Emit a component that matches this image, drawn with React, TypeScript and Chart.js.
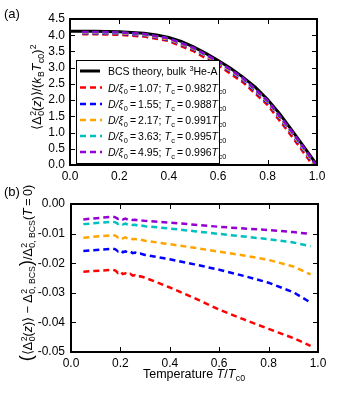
import React, { useEffect, useRef } from "react";
import { Chart, registerables } from "chart.js";

Chart.register(...registerables);

const FAM = '"Liberation Sans", Arial, Helvetica, sans-serif';

// ---------- Panel (a) data ----------
const BCS_T = [0, 0.1, 0.2, 0.3, 0.35, 0.4, 0.45, 0.5, 0.55, 0.6, 0.65, 0.7, 0.75, 0.8, 0.85, 0.9, 0.95, 1.0];
const BCS_GAP = [4.12, 4.12, 4.11, 4.06, 4.01, 3.93, 3.81, 3.64, 3.44, 3.22, 2.98, 2.71, 2.4, 2.02, 1.57, 1.05, 0.53, 0.0];

const TOP_T = [0.05, 0.1, 0.2, 0.3, 0.4, 0.5, 0.6, 0.7, 0.8, 0.9, 0.95];
const TC = [0.982, 0.988, 0.991, 0.995, 0.996];
const TOP_RED = [4.03, 4.03, 4.01, 3.96, 3.82, 3.51, 3.07, 2.55, 1.85, 0.86, 0.34, 0];
const TOP_BLUE = [4.05, 4.05, 4.04, 3.99, 3.85, 3.56, 3.13, 2.61, 1.91, 0.93, 0.4, 0];
const TOP_ORANGE = [4.07, 4.07, 4.06, 4.01, 3.87, 3.58, 3.15, 2.64, 1.94, 0.96, 0.43, 0];
const TOP_CYAN = [4.09, 4.09, 4.08, 4.03, 3.9, 3.6, 3.18, 2.67, 1.97, 1.0, 0.47, 0];
const TOP_PURPLE = [4.1, 4.1, 4.09, 4.04, 3.9, 3.61, 3.19, 2.68, 1.98, 1.01, 0.49, 0];

// ---------- Panel (b) data ----------
const BOT_T = [0.05, 0.17, 0.18, 0.19, 0.2, 0.21, 0.22, 0.23, 0.24, 0.25, 0.26, 0.27, 0.28, 0.3, 0.4, 0.5, 0.6, 0.7, 0.8, 0.9, 0.97];
const BOT_RED = [-0.0229, -0.0222, -0.0225, -0.0233, -0.0228, -0.0237, -0.0234, -0.0239, -0.0236, -0.0242, -0.024, -0.0245, -0.0244, -0.0249, -0.0282, -0.0318, -0.0357, -0.039, -0.0422, -0.0453, -0.0479];
const BOT_BLUE = [-0.0159, -0.0151, -0.0153, -0.016, -0.0156, -0.0163, -0.016, -0.0164, -0.0161, -0.0166, -0.0164, -0.0168, -0.0167, -0.0172, -0.0187, -0.0204, -0.0222, -0.0243, -0.0266, -0.0298, -0.0333];
const BOT_ORANGE = [-0.0114, -0.0105, -0.0107, -0.0113, -0.011, -0.0116, -0.0113, -0.0117, -0.0115, -0.0119, -0.0118, -0.0121, -0.012, -0.0124, -0.0136, -0.0148, -0.0161, -0.0174, -0.0189, -0.0211, -0.0238];
const BOT_CYAN = [-0.0068, -0.006, -0.0062, -0.0067, -0.0064, -0.0069, -0.0066, -0.007, -0.0068, -0.0071, -0.007, -0.0073, -0.0072, -0.0075, -0.0083, -0.0092, -0.0101, -0.011, -0.0119, -0.013, -0.0143];
const BOT_PURPLE = [-0.0052, -0.0043, -0.0045, -0.005, -0.0047, -0.0052, -0.0049, -0.0053, -0.0051, -0.0054, -0.0053, -0.0055, -0.0055, -0.0057, -0.0063, -0.007, -0.0077, -0.0083, -0.0088, -0.0095, -0.0101];

const COLORS = ["#ff0000", "#0000ff", "#ffa500", "#00bfbf", "#9400d3"];
const DLABELS = ["1.07", "1.55", "2.17", "3.63", "4.95"];
const TCLABELS = ["0.982", "0.988", "0.991", "0.995", "0.996"];

const TS = "\u2009"; // thin space

// ---------- rich text helpers ----------
type Seg = { t: string; it?: boolean; sub?: string; sup?: string; size?: number };
const fnt = (s: number, it?: boolean) => `${it ? "italic " : ""}${s}px ${FAM}`;

function segWidths(ctx: CanvasRenderingContext2D, segs: Seg[], size: number) {
  return segs.map((sg) => {
    ctx.font = fnt(sg.size ?? size, sg.it);
    const w = ctx.measureText(sg.t).width;
    ctx.font = fnt(size * 0.7, false);
    const a = sg.sub ? ctx.measureText(sg.sub).width : 0;
    const b = sg.sup ? ctx.measureText(sg.sup).width : 0;
    return { w, extra: Math.max(a, b) };
  });
}

function drawRich(ctx: CanvasRenderingContext2D, segs: Seg[], x: number, y: number, size: number, align: "left" | "center" = "left") {
  const ws = segWidths(ctx, segs, size);
  const total = ws.reduce((s, v) => s + v.w + v.extra + (v.extra ? 0.5 : 0), 0);
  let cx = align === "center" ? x - total / 2 : x;
  ctx.textAlign = "left";
  ctx.textBaseline = "alphabetic";
  segs.forEach((sg, i) => {
    ctx.font = fnt(sg.size ?? size, sg.it);
    ctx.fillText(sg.t, cx, y);
    cx += ws[i].w;
    ctx.font = fnt(size * 0.7, false);
    if (sg.sup) ctx.fillText(sg.sup, cx + 0.5, y - size * 0.42);
    if (sg.sub) ctx.fillText(sg.sub, cx + 0.5, y + size * 0.24);
    cx += ws[i].extra + (ws[i].extra ? 0.5 : 0);
  });
}

const framePlugin = {
  id: "frameTicks",
  afterDatasetsDraw(chart: any) {
    const { ctx, chartArea } = chart;
    const { left, right, top, bottom } = chartArea;
    const xs = chart.scales.x;
    const ys = chart.scales.y;
    ctx.save();
    ctx.strokeStyle = "#000";
    ctx.lineWidth = 1;
    ctx.beginPath();
    xs.ticks.forEach((_t: any, i: number) => {
      const p = Math.round(xs.getPixelForTick(i)) + 0.5;
      ctx.moveTo(p, bottom);
      ctx.lineTo(p, bottom - 5);
      ctx.moveTo(p, top);
      ctx.lineTo(p, top + 5);
    });
    ys.ticks.forEach((_t: any, i: number) => {
      const p = Math.round(ys.getPixelForTick(i)) + 0.5;
      ctx.moveTo(left, p);
      ctx.lineTo(left + 5, p);
      ctx.moveTo(right, p);
      ctx.lineTo(right - 5, p);
    });
    ctx.stroke();
    ctx.lineWidth = 2;
    ctx.strokeRect(left, top, right - left, bottom - top);
    ctx.restore();
  },
};

function tickFont() {
  return { family: FAM, size: 12 };
}

export default function App() {
  const topRef = useRef<HTMLCanvasElement>(null);
  const botRef = useRef<HTMLCanvasElement>(null);

  useEffect(() => {
    const topSeries = [TOP_RED, TOP_BLUE, TOP_ORANGE, TOP_CYAN, TOP_PURPLE];
    const botSeries = [BOT_RED, BOT_BLUE, BOT_ORANGE, BOT_CYAN, BOT_PURPLE];

    const topDatasets: any[] = [
      {
        label: "BCS",
        data: BCS_T.map((t, i) => ({ x: t, y: BCS_GAP[i] })),
        borderColor: "#000",
        borderWidth: 3,
        pointRadius: 0,
        order: 10,
      },
      ...topSeries.map((vals, k) => {
        const xs = [...TOP_T, TC[k]];
        return {
          label: "s" + k,
          data: xs.map((t, i) => ({ x: t, y: vals[i] })),
          borderColor: COLORS[k],
          borderWidth: 2.5,
          borderDash: [6, 4],
          pointRadius: 0,
          order: 5 - k,
        };
      }),
    ];

    const topLegend = {
      id: "topLegend",
      afterDraw(chart: any) {
        const ctx = chart.ctx as CanvasRenderingContext2D;
        ctx.save();
        ctx.fillStyle = "#000";
        ctx.font = fnt(13);
        ctx.textAlign = "left";
        ctx.textBaseline = "alphabetic";
        ctx.fillText("(a)", 4, 18);
        // y title
        ctx.save();
        ctx.translate(41, 87);
        ctx.rotate(-Math.PI / 2);
        drawRich(ctx, [
          { t: "⟨Δ", sub: "0", sup: "2" },
          { t: "(" },
          { t: "z", it: true },
          { t: ")⟩/(" },
          { t: "k", it: true, sub: "B" },
          { t: "T", it: true, sub: "c0" },
          { t: ")", sup: "2" },
        ], 0, 0, 12.5, "center");
        ctx.restore();
        // legend box
        const bx = 76, by = 60, bw = 143, bh = 103;
        ctx.fillStyle = "#fff";
        ctx.fillRect(bx, by, bw, bh);
        ctx.strokeStyle = "#000";
        ctx.lineWidth = 1;
        ctx.strokeRect(bx + 0.5, by + 0.5, bw, bh);
        const rowY = [71, 87.5, 104, 120, 136, 152];
        ctx.setLineDash([]);
        ctx.lineWidth = 3;
        ctx.beginPath();
        ctx.moveTo(80, rowY[0]);
        ctx.lineTo(100, rowY[0]);
        ctx.stroke();
        ctx.fillStyle = "#000";
        drawRich(ctx, [{ t: "BCS theory, bulk " }, { t: "", sup: "3" }, { t: "He-A" }], 108, rowY[0] + 4, 10.5);
        for (let k = 0; k < 5; k++) {
          const y = rowY[k + 1];
          ctx.strokeStyle = COLORS[k];
          ctx.lineWidth = 2.5;
          ctx.setLineDash([6, 4]);
          ctx.beginPath();
          ctx.moveTo(80, y);
          ctx.lineTo(102, y);
          ctx.stroke();
          ctx.setLineDash([]);
          ctx.fillStyle = "#000";
          drawRich(ctx, [
            { t: "D/ξ", it: true, sub: "0" },
            { t: TS + "=" + TS + DLABELS[k] + "; " },
            { t: "T", it: true, sub: "c" },
            { t: TS + "=" + TS + TCLABELS[k] },
            { t: "T", it: true, sub: "c0" },
          ], 108, y + 4, 10.5);
        }
        ctx.restore();
      },
    };

    const topChart = new Chart(topRef.current!, {
      type: "line",
      data: { datasets: topDatasets },
      options: {
        animation: false,
        responsive: false,
        maintainAspectRatio: false,
        devicePixelRatio: 1,
        layout: { padding: { top: 19, right: 23, left: 0, bottom: 0 } },
        plugins: { legend: { display: false }, tooltip: { enabled: false } },
        scales: {
          x: {
            type: "linear",
            min: 0,
            max: 1,
            afterFit: (s: any) => { s.height = 20; },
            grid: { display: false, drawTicks: false },
            border: { display: false },
            ticks: { stepSize: 0.2, padding: 4, color: "#000", font: tickFont(), maxRotation: 0, autoSkip: false, callback: (v: any) => Number(v).toFixed(1) },
          },
          y: {
            type: "linear",
            min: 0,
            max: 4.5,
            afterFit: (s: any) => { s.width = 70; },
            grid: { display: false, drawTicks: false },
            border: { display: false },
            ticks: { stepSize: 0.5, padding: 5, color: "#000", font: tickFont(), autoSkip: false, callback: (v: any) => Number(v).toFixed(1) },
          },
        },
      } as any,
      plugins: [framePlugin, topLegend],
    });

    const botDatasets: any[] = botSeries.map((vals, k) => ({
      label: "b" + k,
      data: BOT_T.map((t, i) => ({ x: t, y: vals[i] })),
      borderColor: COLORS[k],
      borderWidth: 2.5,
      borderDash: [6, 4],
      pointRadius: 0,
      order: 5 - k,
    }));

    const botTitles = {
      id: "botTitles",
      afterDraw(chart: any) {
        const ctx = chart.ctx as CanvasRenderingContext2D;
        ctx.save();
        ctx.fillStyle = "#000";
        ctx.font = fnt(13);
        ctx.textAlign = "left";
        ctx.textBaseline = "alphabetic";
        ctx.fillText("(b)", 4, 11);
        drawRich(ctx, [
          { t: "Temperature " },
          { t: "T", it: true },
          { t: "/" },
          { t: "T", it: true, sub: "c0" },
        ], 194, 193, 12.5, "center");
        ctx.save();
        ctx.translate(32, 88);
        ctx.rotate(-Math.PI / 2);
        drawRich(ctx, [
          { t: "(", size: 18 },
          { t: "⟨Δ", sub: "0", sup: "2" },
          { t: "(" },
          { t: "z", it: true },
          { t: ")⟩ − Δ", sub: "0, BCS", sup: "2" },
          { t: ")", size: 18 },
          { t: "/Δ", sub: "0, BCS", sup: "2" },
          { t: "(" },
          { t: "T", it: true },
          { t: TS + "=" + TS + "0)" },
        ], 0, 0, 12.5, "center");
        ctx.restore();
        ctx.restore();
      },
    };

    const botChart = new Chart(botRef.current!, {
      type: "line",
      data: { datasets: botDatasets },
      options: {
        animation: false,
        responsive: false,
        maintainAspectRatio: false,
        devicePixelRatio: 1,
        layout: { padding: { top: 19, right: 22, left: 0, bottom: 0 } },
        plugins: { legend: { display: false }, tooltip: { enabled: false } },
        scales: {
          x: {
            type: "linear",
            min: 0,
            max: 1,
            afterFit: (s: any) => { s.height = 48; },
            grid: { display: false, drawTicks: false },
            border: { display: false },
            ticks: { stepSize: 0.2, padding: 4, color: "#000", font: tickFont(), maxRotation: 0, autoSkip: false, callback: (v: any) => Number(v).toFixed(1) },
          },
          y: {
            type: "linear",
            min: -0.05,
            max: 0,
            afterFit: (s: any) => { s.width = 71; },
            grid: { display: false, drawTicks: false },
            border: { display: false },
            ticks: {
              stepSize: 0.01,
              padding: 6,
              color: "#000",
              font: tickFont(),
              autoSkip: false,
              callback: (v: any) => {
                const n = Number(v);
                return Math.abs(n) < 1e-9 ? "0.00" : n.toFixed(2);
              },
            },
          },
        },
      } as any,
      plugins: [framePlugin, botTitles],
    });

    return () => {
      topChart.destroy();
      botChart.destroy();
    };
  }, []);

  return (
    <div style={{ position: "absolute", left: 0, top: 0, width: 340, height: 400, background: "#fff" }}>
      <canvas ref={topRef} width={340} height={185} style={{ position: "absolute", left: 0, top: 0, width: 340, height: 185 }} />
      <canvas ref={botRef} width={340} height={215} style={{ position: "absolute", left: 0, top: 185, width: 340, height: 215 }} />
    </div>
  );
}
